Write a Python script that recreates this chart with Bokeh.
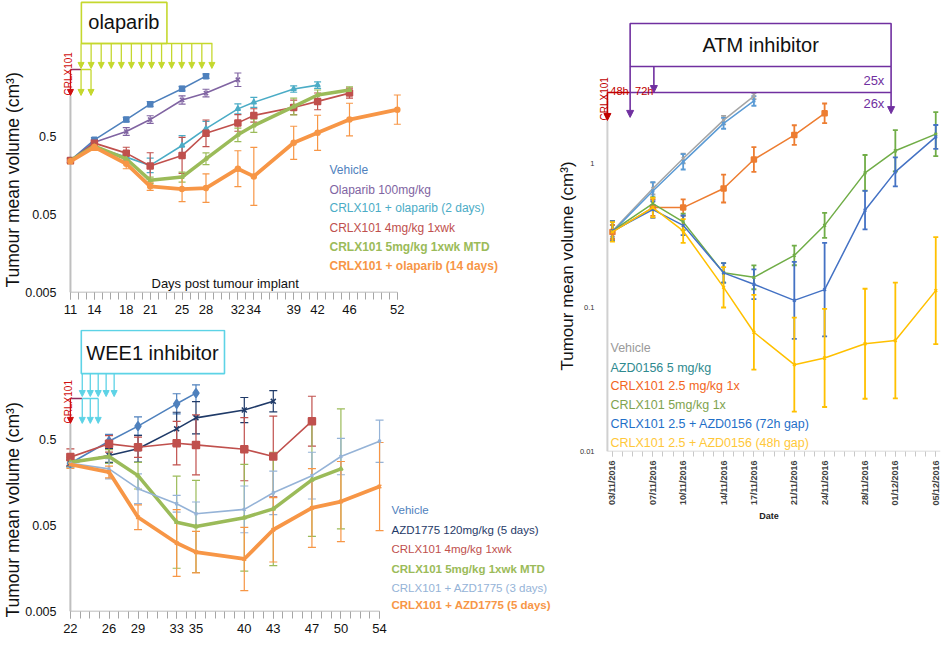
import numpy as np
import pandas as pd
from math import pi
from bokeh.plotting import figure
from bokeh.layouts import row, column
from bokeh.models import (ColumnDataSource, Whisker, TeeHead, Arrow, NormalHead, Label, Title,
                          FixedTicker, NumeralTickFormatter, DatetimeTickFormatter, Range1d)
from bokeh.embed import file_html
from bokeh.resources import INLINE

SANS = "Liberation Sans"

# ================= DATA: olaparib panel =================
ola_tick_days = [11, 14, 18, 21, 25, 28, 32, 34, 39, 42, 46, 52]
ola_names = ["Vehicle", "Olaparib 100mg/kg", "CRLX101 + olaparib (2 days)",
             "CRLX101 4mg/kg 1xwk", "CRLX101 5mg/kg 1xwk MTD", "CRLX101 + olaparib (14 days)"]
ola_colors = ["#4F81BD", "#8064A2", "#4BACC6", "#C0504D", "#9BBB59", "#F79646"]

ola_veh_day = [11, 14, 18, 21, 25, 28]
ola_veh_vol = [0.247, 0.453, 0.824, 1.30, 2.05, 2.97]
ola_veh_err = [1.06, 1.07, 1.07, 1.08, 1.07, 1.07]

ola_ola_day = [11, 14, 18, 21, 25, 28, 32]
ola_ola_vol = [0.247, 0.423, 0.579, 0.824, 1.47, 1.80, 2.67]
ola_ola_err = [1.07, 1.08, 1.12, 1.12, 1.13, 1.12, 1.22]

ola_c2_day = [11, 14, 18, 21, 25, 28, 32, 34, 39, 42]
ola_c2_vol = [0.25, 0.366, 0.272, 0.213, 0.383, 0.63, 1.13, 1.37, 2.03, 2.28]
ola_c2_err = [1.07, 1.10, 1.10, 1.24, 1.34, 1.24, 1.16, 1.16, 1.10, 1.10]

ola_c4_day = [11, 14, 18, 21, 25, 28, 32, 34, 39, 42, 46]
ola_c4_vol = [0.247, 0.411, 0.306, 0.209, 0.286, 0.55, 0.747, 0.93, 1.18, 1.41, 1.80]
ola_c4_err = [1.07, 1.10, 1.19, 1.48, 1.70, 1.48, 1.28, 1.22, 1.24, 1.28, 1.16]

ola_c5_day = [11, 14, 18, 21, 25, 28, 32, 34, 39, 42, 46]
ola_c5_vol = [0.247, 0.377, 0.259, 0.137, 0.151, 0.259, 0.525, 0.69, 1.21, 1.70, 1.97]
ola_c5_err = [1.07, 1.10, 1.13, 1.10, 1.16, 1.19, 1.22, 1.22, 1.28, 1.16, 1.10]

ola_c14_day = [11, 14, 18, 21, 25, 28, 32, 34, 39, 42, 46, 52]
ola_c14_vol = [0.240, 0.366, 0.224, 0.115, 0.106, 0.109, 0.193, 0.154, 0.415, 0.557, 0.824, 1.105]
ola_c14_err = [1.08, 1.10, 1.16, 1.13, 1.45, 1.52, 1.70, 2.35, 1.63, 1.68, 1.62, 1.54]

# ================= DATA: WEE1 panel =================
wee_tick_days = [22, 26, 29, 33, 35, 40, 43, 47, 50, 54]
wee_names = ["Vehicle", "AZD1775 120mg/kg (5 days)", "CRLX101 4mg/kg 1xwk",
             "CRLX101 5mg/kg 1xwk MTD", "CRLX101 + AZD1775 (3 days)", "CRLX101 + AZD1775 (5 days)"]
wee_colors = ["#4F81BD", "#1F3A68", "#C0504D", "#9BBB59", "#95B3D7", "#F79646"]

wee_veh_day = [22, 26, 29, 33, 35]
wee_veh_vol = [0.265, 0.478, 0.715, 1.30, 1.73]
wee_veh_err = [1.09, 1.20, 1.28, 1.31, 1.25]

wee_azd_day = [22, 26, 29, 33, 35, 40, 43]
wee_azd_vol = [0.265, 0.326, 0.39, 0.665, 0.893, 1.10, 1.39]
wee_azd_err = [1.09, 1.20, 1.43, 1.56, 1.54, 1.40, 1.33]

wee_c4_day = [22, 26, 29, 33, 35, 40, 43, 47]
wee_c4_vol = [0.312, 0.445, 0.407, 0.453, 0.433, 0.386, 0.317, 0.817]
wee_c4_err = [1.25, 1.25, 1.31, 1.79, 2.23, 2.33, 2.95, 1.95]

wee_c5_day = [22, 26, 29, 33, 35, 40, 43, 47, 50]
wee_c5_vol = [0.272, 0.317, 0.19, 0.0546, 0.0487, 0.0616, 0.078, 0.170, 0.228]
wee_c5_err = [1.14, 1.20, 1.43, 3.43, 3.43, 4.17, 4.56, 4.56, 4.98]

wee_c3_day = [22, 26, 29, 33, 35, 40, 43, 47, 50, 54]
wee_c3_vol = [0.265, 0.228, 0.134, 0.0896, 0.0685, 0.077, 0.12, 0.19, 0.317, 0.478]
wee_c3_err = [1.11, 1.31, 1.49, 1.25, 1.37, 1.87, 1.79, 1.87, 1.63, 1.76]

wee_cx5_day = [22, 26, 29, 33, 35, 40, 43, 47, 50, 54]
wee_cx5_vol = [0.256, 0.209, 0.0624, 0.0313, 0.0245, 0.0204, 0.0446, 0.08, 0.095, 0.142]
wee_cx5_err = [1.11, 1.17, 1.39, 2.44, 1.74, 2.33, 2.37, 2.87, 2.92, 3.25]

# ================= DATA: ATM panel =================
atm_dates = ["03/11/2016", "07/11/2016", "10/11/2016", "14/11/2016", "17/11/2016",
             "21/11/2016", "24/11/2016", "28/11/2016", "01/12/2016", "05/12/2016"]
atm_names = ["Vehicle", "AZD0156 5 mg/kg", "CRLX101 2.5 mg/kg 1x", "CRLX101 5mg/kg 1x",
             "CRLX101 2.5 + AZD0156 (72h gap)", "CRLX101 2.5 + AZD0156 (48h gap)"]
atm_line_colors = ["#A5A5A5", "#5B9BD5", "#ED7D31", "#70AD47", "#4472C4", "#FFC000"]
atm_text_colors = ["#9A9A9A", "#2F8A8F", "#F26522", "#7FA34F", "#1F70C8", "#FFC83A"]

atm_veh_vol = [0.340, 0.670, 1.083, 2.0, 2.94]
atm_veh_err = [1.10, 1.10, 1.08, 1.07, 1.05]

atm_azd_vol = [0.335, 0.645, 1.027, 1.90, 2.72]
atm_azd_err = [1.12, 1.15, 1.13, 1.09, 1.08]

atm_c25_vol = [0.335, 0.494, 0.494, 0.670, 1.066, 1.575, 2.23]
atm_c25_err = [1.12, 1.14, 1.14, 1.25, 1.22, 1.17, 1.17]

atm_c5_vol = [0.34, 0.527, 0.393, 0.174, 0.162, 0.230, 0.372, 0.861, 1.225, 1.60]
atm_c5_err = [1.17, 1.11, 1.14, 1.17, 1.21, 1.17, 1.22, 1.33, 1.39, 1.42]

atm_g72_vol = [0.34, 0.478, 0.372, 0.174, 0.145, 0.112, 0.133, 0.474, 0.875, 1.53]
atm_g72_err = [1.17, 1.14, 1.17, 1.17, 1.27, 1.85, 2.11, 1.36, 1.26, 1.21]

atm_g48_vol = [0.335, 0.494, 0.34, 0.138, 0.0673, 0.0401, 0.0446, 0.056, 0.059, 0.131]
atm_g48_err = [1.17, 1.17, 1.21, 1.38, 1.82, 2.12, 2.19, 2.41, 2.52, 2.35]


# ================= helpers =================
def make_fig(w, h, xr, yr, ml, mb, mr=0, xtype="linear"):
    p = figure(width=w, height=h, x_range=xr, y_range=yr, y_axis_type="log",
               x_axis_type=xtype, output_backend="svg", toolbar_location=None,
               min_border_left=ml, min_border_right=mr, min_border_top=0,
               min_border_bottom=mb)
    p.grid.visible = False
    p.outline_line_color = None
    return p


def series(p, x, y, err, color, lw, marker=None, size=5, head=7, ww=1.2):
    lo = [v / e for v, e in zip(y, err)]
    hi = [v * e for v, e in zip(y, err)]
    src = ColumnDataSource(dict(x=x, y=y, lo=lo, hi=hi))
    p.add_layout(Whisker(source=src, base="x", lower="lo", upper="hi",
                         line_color=color, line_width=ww,
                         upper_head=TeeHead(size=head, line_color=color, line_width=ww),
                         lower_head=TeeHead(size=head, line_color=color, line_width=ww)))
    p.line("x", "y", source=src, line_color=color, line_width=lw)
    if marker:
        p.scatter("x", "y", source=src, marker=marker, size=size,
                  fill_color=color, line_color=color, line_width=1.5)


def legend(p, names, colors, bolds, x0, ys, size):
    for n, c, b, yy in zip(names, colors, bolds, ys):
        p.add_layout(Label(x=x0, y=yy, x_units="screen", y_units="screen", text=n,
                           text_color=c, text_font=SANS, text_font_size=size,
                           text_font_style="bold" if b else "normal",
                           text_baseline="middle"))


def arrows(p, xs, y0, y1, color, size=6, lw=1.3):
    src = ColumnDataSource(dict(x0=list(xs), x1=list(xs), y0=[y0] * len(xs), y1=[y1] * len(xs)))
    p.add_layout(Arrow(source=src, x_start="x0", y_start="y0", x_end="x1", y_end="y1",
                       line_color=color, line_width=lw,
                       end=NormalHead(size=size, fill_color=color, line_color=color)))


def ytitle(p, offset, size="17.5px"):
    p.add_layout(Title(text="Tumour mean volume (cm³)", align="left", offset=offset,
                       standoff=0, text_font=SANS, text_font_size=size,
                       text_font_style="normal", text_color="#111111"), "left")


def red_label(p, x, y, size="10px"):
    p.add_layout(Label(x=x, y=y, text="CRLX101", angle=pi / 2, text_align="left",
                       text_baseline="alphabetic", text_font=SANS, text_font_size=size,
                       text_color="#D01010"))


def style_axes(p, xticks, xminor, yticks, fsize="13px"):
    p.xaxis.ticker = FixedTicker(ticks=xticks, minor_ticks=xminor)
    p.xaxis.axis_line_color = None
    p.xaxis.major_tick_line_color = "#A6A6A6"
    p.xaxis.minor_tick_line_color = "#A6A6A6"
    p.xaxis.major_tick_in = 0
    p.xaxis.minor_tick_in = 0
    p.xaxis.major_tick_out = 7
    p.xaxis.minor_tick_out = 7
    p.xaxis.major_label_standoff = 5
    p.xaxis.major_label_text_font = SANS
    p.xaxis.major_label_text_font_size = fsize
    p.xaxis.major_label_text_color = "#111111"
    p.yaxis.ticker = FixedTicker(ticks=yticks, minor_ticks=[])
    p.yaxis.formatter = NumeralTickFormatter(format="0.[000]")
    p.yaxis.axis_line_color = None
    p.yaxis.major_tick_line_color = None
    p.yaxis.major_tick_in = 0
    p.yaxis.major_tick_out = 0
    p.yaxis.major_label_standoff = 2
    p.yaxis.major_label_text_font = SANS
    p.yaxis.major_label_text_font_size = "12.5px"
    p.yaxis.major_label_text_color = "#111111"


# ================= Panel A: olaparib =================
p1 = make_fig(555, 329, Range1d(9.50, 71.84), Range1d(0.005, 27.7), ml=55, mb=37)
style_axes(p1, ola_tick_days, list(range(11, 53)), [0.005, 0.05, 0.5])
p1.segment(x0=[11], y0=[0.005], x1=[52], y1=[0.005], line_color="#A6A6A6", line_width=1.5)
p1.segment(x0=[11], y0=[0.005], x1=[11], y1=[1.68], line_color="#BFBFBF", line_width=2)

series(p1, ola_veh_day, ola_veh_vol, ola_veh_err, ola_colors[0], 1.6, "square", 5)
series(p1, ola_ola_day, ola_ola_vol, ola_ola_err, ola_colors[1], 1.6, "x", 6)
series(p1, ola_c2_day, ola_c2_vol, ola_c2_err, ola_colors[2], 1.6, "triangle", 5)
series(p1, ola_c4_day, ola_c4_vol, ola_c4_err, ola_colors[3], 1.6, "square", 6)
series(p1, ola_c5_day, ola_c5_vol, ola_c5_err, ola_colors[4], 3.5, "triangle", 4)
series(p1, ola_c14_day, ola_c14_vol, ola_c14_err, ola_colors[5], 3.8, "circle", 5)

OLA = "#C5D82E"
p1.quad(left=[12.37], right=[23.1], top=[26.2], bottom=[7.8], fill_color="white",
        line_color=OLA, line_width=1.6)
p1.add_layout(Label(x=17.7, y=14.5, text="olaparib", text_align="center", text_baseline="middle",
                    text_font=SANS, text_font_size="20px", text_color="#111111"))
p1.segment(x0=[12.37], y0=[7.8], x1=[28.8], y1=[7.8], line_color=OLA, line_width=1.4)
arrows(p1, np.linspace(12.33, 28.74, 14), 7.8, 3.73, OLA, size=6)
p1.segment(x0=[11], y0=[3.61], x1=[12.33], y1=[3.61], line_color="#8E3060", line_width=1.6)
p1.segment(x0=[12.33], y0=[3.61], x1=[13.58], y1=[3.61], line_color=OLA, line_width=1.4)
arrows(p1, [12.33, 13.58], 3.61, 1.68, OLA, size=6)
arrows(p1, [11.0], 3.61, 1.68, "#D01010", size=6)
red_label(p1, 10.75, 1.68)
p1.add_layout(Label(x=93, y=9, x_units="screen", y_units="screen",
                    text="Days post tumour implant", text_baseline="middle",
                    text_font=SANS, text_font_size="13px", text_color="#111111"))
legend(p1, ola_names, ola_colors, [False, False, False, False, True, True],
       271, [123, 103, 85, 65, 46, 27], "12px")
ytitle(p1, 5)

# ================= Panel B: WEE1 =================
p2 = make_fig(555, 329, Range1d(20.77, 72.21), Range1d(0.005, 9.51), ml=55, mb=47)
style_axes(p2, wee_tick_days, list(range(22, 55)), [0.005, 0.05, 0.5])
p2.segment(x0=[22], y0=[0.005], x1=[54], y1=[0.005], line_color="#A6A6A6", line_width=1.5)
p2.segment(x0=[22], y0=[0.005], x1=[22], y1=[0.77], line_color="#BFBFBF", line_width=2)

series(p2, wee_veh_day, wee_veh_vol, wee_veh_err, wee_colors[0], 1.6, "diamond", 9, head=8)
series(p2, wee_azd_day, wee_azd_vol, wee_azd_err, wee_colors[1], 1.6, "x", 7, head=8)
series(p2, wee_c4_day, wee_c4_vol, wee_c4_err, wee_colors[2], 1.6, "square", 7, head=8)
series(p2, wee_c5_day, wee_c5_vol, wee_c5_err, wee_colors[3], 3.5, "triangle", 4, head=8)
series(p2, wee_c3_day, wee_c3_vol, wee_c3_err, wee_colors[4], 1.6, "x", 4, head=8)
series(p2, wee_cx5_day, wee_cx5_vol, wee_cx5_err, wee_colors[5], 3.8, "x", 5, head=8)

WEE = "#5DD3E6"
p2.quad(left=[23.13], right=[37.95], top=[9.26], bottom=[2.92], fill_color="white",
        line_color=WEE, line_width=1.6)
p2.add_layout(Label(x=30.5, y=5.1, text="WEE1 inhibitor", text_align="center",
                    text_baseline="middle", text_font=SANS, text_font_size="20px",
                    text_color="#111111"))
arrows(p2, [23.23, 24.06, 24.88, 25.70, 26.53], 2.92, 1.58, WEE, size=6)
p2.segment(x0=[22], y0=[1.5], x1=[23.23], y1=[1.5], line_color="#8E3060", line_width=1.6)
p2.segment(x0=[23.23], y0=[1.5], x1=[24.88], y1=[1.5], line_color=WEE, line_width=1.4)
arrows(p2, [23.23, 24.06, 24.88], 1.5, 0.77, WEE, size=6)
arrows(p2, [22.0], 1.5, 0.77, "#D01010", size=6)
red_label(p2, 21.8, 0.77)
legend(p2, wee_names, wee_colors, [False, False, False, True, False, True],
       333, [102, 82, 63, 43, 24, 7], "11.5px")
ytitle(p2, -6)

# ================= Panel C: ATM =================
t0 = pd.Timestamp("2016-11-02 12:00")


def dms(days):
    return (t0 + pd.Timedelta(days=days)).value / 1e6


dts = pd.to_datetime(atm_dates, format="%d/%m/%Y")
tick_ms = [d.value / 1e6 for d in dts]
minor_ms = [d.value / 1e6 for d in pd.date_range("2016-11-03", "2016-12-05", freq="D")]

p3 = make_fig(390, 658, Range1d(dms(-0.98), dms(32.97)), Range1d(0.01, 13.55), ml=38, mb=207,
              mr=5, xtype="datetime")
p3.xaxis.ticker = FixedTicker(ticks=tick_ms, minor_ticks=minor_ms)
p3.xaxis.formatter = DatetimeTickFormatter(
    microseconds="%d/%m/%Y", milliseconds="%d/%m/%Y", seconds="%d/%m/%Y", minsec="%d/%m/%Y",
    minutes="%d/%m/%Y", hourmin="%d/%m/%Y", hours="%d/%m/%Y", days="%d/%m/%Y",
    months="%d/%m/%Y", years="%d/%m/%Y")
p3.xaxis.major_label_orientation = pi / 2
p3.xaxis.axis_line_color = None
p3.xaxis.major_tick_line_color = "#C8C8C8"
p3.xaxis.minor_tick_line_color = "#C8C8C8"
p3.xaxis.major_tick_in = 0
p3.xaxis.minor_tick_in = 0
p3.xaxis.major_tick_out = 5
p3.xaxis.minor_tick_out = 5
p3.xaxis.major_label_standoff = 4
p3.xaxis.major_label_text_font = SANS
p3.xaxis.major_label_text_font_size = "9px"
p3.xaxis.major_label_text_font_style = "bold"
p3.xaxis.major_label_text_color = "#404040"
p3.xaxis.axis_label = "Date"
p3.xaxis.axis_label_text_font = SANS
p3.xaxis.axis_label_text_font_size = "9px"
p3.xaxis.axis_label_text_font_style = "bold"
p3.xaxis.axis_label_text_color = "#222222"
p3.xaxis.axis_label_standoff = 2
p3.yaxis.ticker = FixedTicker(ticks=[0.01, 0.1, 1], minor_ticks=[])
p3.yaxis.formatter = NumeralTickFormatter(format="0.[000]")
p3.yaxis.axis_line_color = None
p3.yaxis.major_tick_line_color = None
p3.yaxis.major_tick_in = 0
p3.yaxis.major_tick_out = 0
p3.yaxis.major_label_standoff = 3
p3.yaxis.major_label_text_font = SANS
p3.yaxis.major_label_text_font_size = "7.5px"
p3.yaxis.major_label_text_color = "#333333"
p3.segment(x0=[dms(0)], y0=[0.01], x1=[dms(32.97)], y1=[0.01], line_color="#D0D0D0", line_width=1.5)
p3.segment(x0=[dms(0)], y0=[0.01], x1=[dms(0)], y1=[1.99], line_color="#D0D0D0", line_width=2)

series(p3, dts[:5], atm_veh_vol, atm_veh_err, atm_line_colors[0], 1.5, "x", 4, head=5, ww=1.8)
series(p3, dts[:5], atm_azd_vol, atm_azd_err, atm_line_colors[1], 1.5, "x", 4, head=5, ww=1.8)
series(p3, dts[:7], atm_c25_vol, atm_c25_err, atm_line_colors[2], 1.5, "square", 5, head=5, ww=1.8)
series(p3, dts, atm_c5_vol, atm_c5_err, atm_line_colors[3], 1.5, "x", 4, head=5, ww=1.8)
series(p3, dts, atm_g72_vol, atm_g72_err, atm_line_colors[4], 1.5, "x", 4, head=5, ww=1.8)
series(p3, dts, atm_g48_vol, atm_g48_err, atm_line_colors[5], 1.5, "x", 4, head=5, ww=1.8)

PUR = "#7030A0"
RED = "#C00000"
p3.quad(left=[dms(2.25)], right=[dms(28.08)], top=[9.39], bottom=[4.72], fill_color="white",
        line_color=PUR, line_width=1.6)
p3.add_layout(Label(x=dms(15.17), y=6.70, text="ATM inhibitor", text_align="center",
                    text_baseline="middle", text_font=SANS, text_font_size="20px",
                    text_color="#111111"))
p3.segment(x0=[dms(0)], y0=[3.11], x1=[dms(2.25)], y1=[3.11], line_color=RED, line_width=1.6)
p3.segment(x0=[dms(2.25)], y0=[3.11], x1=[dms(28.08)], y1=[3.11], line_color=PUR, line_width=1.6)
arrows(p3, [dms(2.25)], 4.72, 2.09, PUR, size=7, lw=1.6)
arrows(p3, [dms(4.60)], 4.72, 3.11, PUR, size=7, lw=1.6)
arrows(p3, [dms(28.08)], 4.72, 2.22, PUR, size=7, lw=1.6)
arrows(p3, [dms(0)], 3.11, 1.99, RED, size=7, lw=1.6)
p3.add_layout(Label(x=dms(-0.25), y=1.99, text="CRLX101", angle=pi / 2, text_align="left",
                    text_baseline="alphabetic", text_font=SANS, text_font_size="10px",
                    text_color=RED))
p3.add_layout(Label(x=dms(0.29), y=3.21, text="48h", text_baseline="alphabetic",
                    text_font=SANS, text_font_size="11px", text_color=RED))
p3.add_layout(Label(x=dms(2.74), y=3.21, text="72h", text_baseline="alphabetic",
                    text_font=SANS, text_font_size="11px", text_color=RED))
p3.add_layout(Label(x=dms(25.34), y=3.77, text="25x", text_baseline="middle",
                    text_font=SANS, text_font_size="13px", text_color=PUR))
p3.add_layout(Label(x=dms(25.34), y=2.61, text="26x", text_baseline="middle",
                    text_font=SANS, text_font_size="13px", text_color=PUR))
legend(p3, atm_names, atm_text_colors, [False] * 6, 13, [104, 84, 66, 47, 28, 9], "12.5px")
ytitle(p3, 81, size="17px")

layout = row(column(p1, p2), p3)
open("out.html", "w").write(file_html(layout, INLINE))
